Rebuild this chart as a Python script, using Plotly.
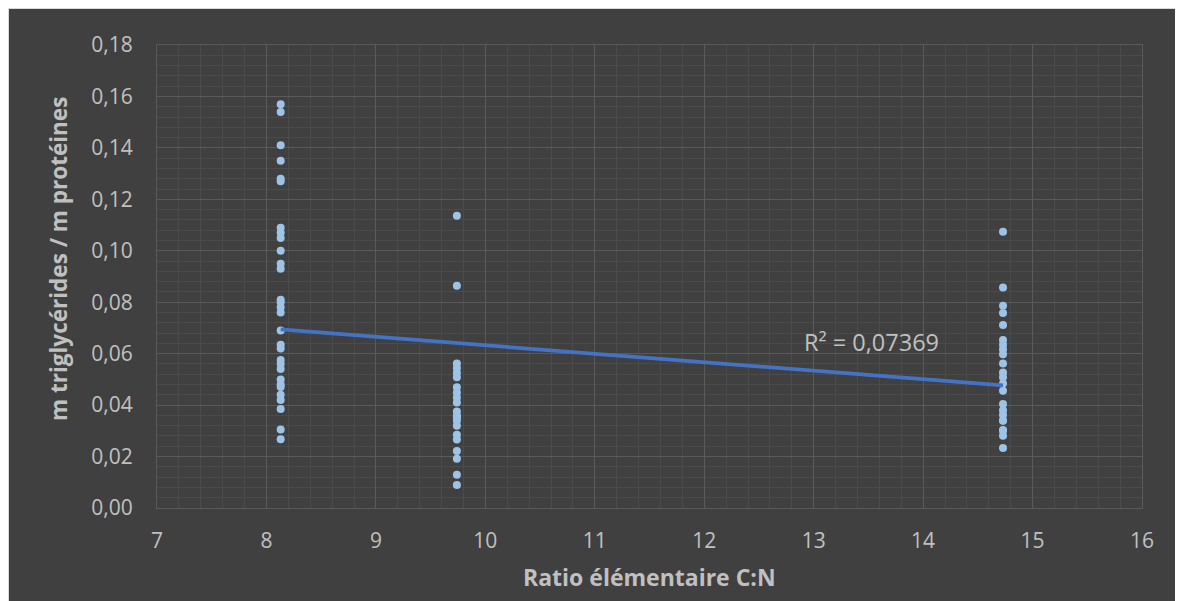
import numpy as np
import plotly.graph_objects as go

# ---- data ----
x_groups = [8.13, 9.74, 14.73]
y_group1 = [0.157, 0.154, 0.141, 0.135, 0.128, 0.127, 0.109, 0.107, 0.105, 0.100,
            0.095, 0.093, 0.081, 0.080, 0.078, 0.076, 0.069, 0.0635, 0.062, 0.0575,
            0.056, 0.054, 0.050, 0.048, 0.047, 0.044, 0.042, 0.0385, 0.0305, 0.0267]
y_group2 = [0.1136, 0.0864, 0.0562, 0.0544, 0.0526, 0.0508, 0.0469, 0.0449, 0.0430,
            0.0410, 0.0375, 0.0359, 0.0355, 0.0350, 0.0339, 0.0320, 0.0285, 0.0266,
            0.0222, 0.0191, 0.0129, 0.0089]
y_group3 = [0.1074, 0.0857, 0.0786, 0.0758, 0.0711, 0.0653, 0.0635, 0.0616, 0.0598,
            0.0562, 0.0527, 0.0508, 0.0484, 0.0456, 0.0404, 0.0380, 0.0362, 0.0340,
            0.0339, 0.0303, 0.0300, 0.0281, 0.0233]
r2_label = "R² = 0,07369"
x_title = "Ratio élémentaire C:N"
y_title = "m triglycérides / m protéines"

xs = [x_groups[0]] * len(y_group1) + [x_groups[1]] * len(y_group2) + [x_groups[2]] * len(y_group3)
ys = y_group1 + y_group2 + y_group3

slope, intercept = np.polyfit(xs, ys, 1)
trend_x = [min(xs), max(xs)]
trend_y = [slope * v + intercept for v in trend_x]

BG = "#404040"
TXT = "#c0c0c0"
FONT = "Open Sans"

fig = go.Figure()
fig.add_trace(go.Scatter(
    x=xs, y=ys, mode="markers",
    marker=dict(color="#9dc3e6", size=8, line=dict(width=0)),
    showlegend=False, hoverinfo="x+y"))
fig.add_trace(go.Scatter(
    x=trend_x, y=trend_y, mode="lines",
    line=dict(color="#4472c4", width=3.75),
    showlegend=False, hoverinfo="skip"))

# figure sits inside the page's 8px body margin and runs past the window edge
OX, OY = 8, 8
W, H = 1190, 608
L, R, T, B = 149, 56, 37, 108
pw = W - L - R
ph = H - T - B


def px_x(px):
    return (px - OX - L) / pw


def px_y(py):
    return 1 - (py - OY - T) / ph


fig.update_layout(
    width=W, height=H,
    margin=dict(l=L, r=R, t=T, b=B, pad=0),
    paper_bgcolor=BG, plot_bgcolor=BG,
    separators=", ",
    font=dict(family=FONT, color=TXT, size=21),
    xaxis=dict(
        range=[7, 16], dtick=1, tick0=7, showgrid=True, gridcolor="#5a5a5a", gridwidth=1,
        minor=dict(dtick=0.2, showgrid=True, gridcolor="#4b4b4b", gridwidth=1),
        zeroline=False, showline=True, linecolor="#5a5a5a", linewidth=1, mirror=True,
        ticks="", ticklabelstandoff=14, tickfont=dict(size=21, color=TXT, family=FONT),
    ),
    yaxis=dict(
        range=[0, 0.18], dtick=0.02, tick0=0, tickformat=".2f", showgrid=True,
        gridcolor="#5a5a5a", gridwidth=1,
        minor=dict(dtick=0.004, showgrid=True, gridcolor="#4b4b4b", gridwidth=1),
        zeroline=False, showline=True, linecolor="#5a5a5a", linewidth=1, mirror=True,
        ticks="", ticklabelstandoff=19, tickfont=dict(size=21, color=TXT, family=FONT),
    ),
    annotations=[
        dict(text=x_title, xref="paper", yref="paper", x=0.5, y=px_y(577),
             xanchor="center", yanchor="middle", showarrow=False,
             font=dict(size=23, color=TXT, family=FONT, weight="bold")),
        dict(text=y_title, xref="paper", yref="paper", x=px_x(58), y=px_y(259),
             xanchor="center", yanchor="middle", textangle=-90, showarrow=False,
             font=dict(size=22.5, color=TXT, family=FONT, weight="bold")),
        dict(text=r2_label, xref="x", yref="y", x=13.53, y=0.0645,
             xanchor="center", yanchor="middle", showarrow=False,
             font=dict(size=23.5, color=TXT, family=FONT)),
    ],
    shapes=[
        dict(type="line", xref="paper", yref="paper",
             x0=-L / pw, x1=1 + R / pw, y0=1 + T / ph, y1=1 + T / ph,
             line=dict(color="#d9d9d9", width=2)),
        dict(type="line", xref="paper", yref="paper",
             x0=-L / pw, x1=-L / pw, y0=-B / ph, y1=1 + T / ph,
             line=dict(color="#d9d9d9", width=2)),
    ],
)

fig.write_html(
    "out.html",
    post_script="document.documentElement.style.overflow='hidden';"
                "document.body.style.overflow='hidden';",
)
